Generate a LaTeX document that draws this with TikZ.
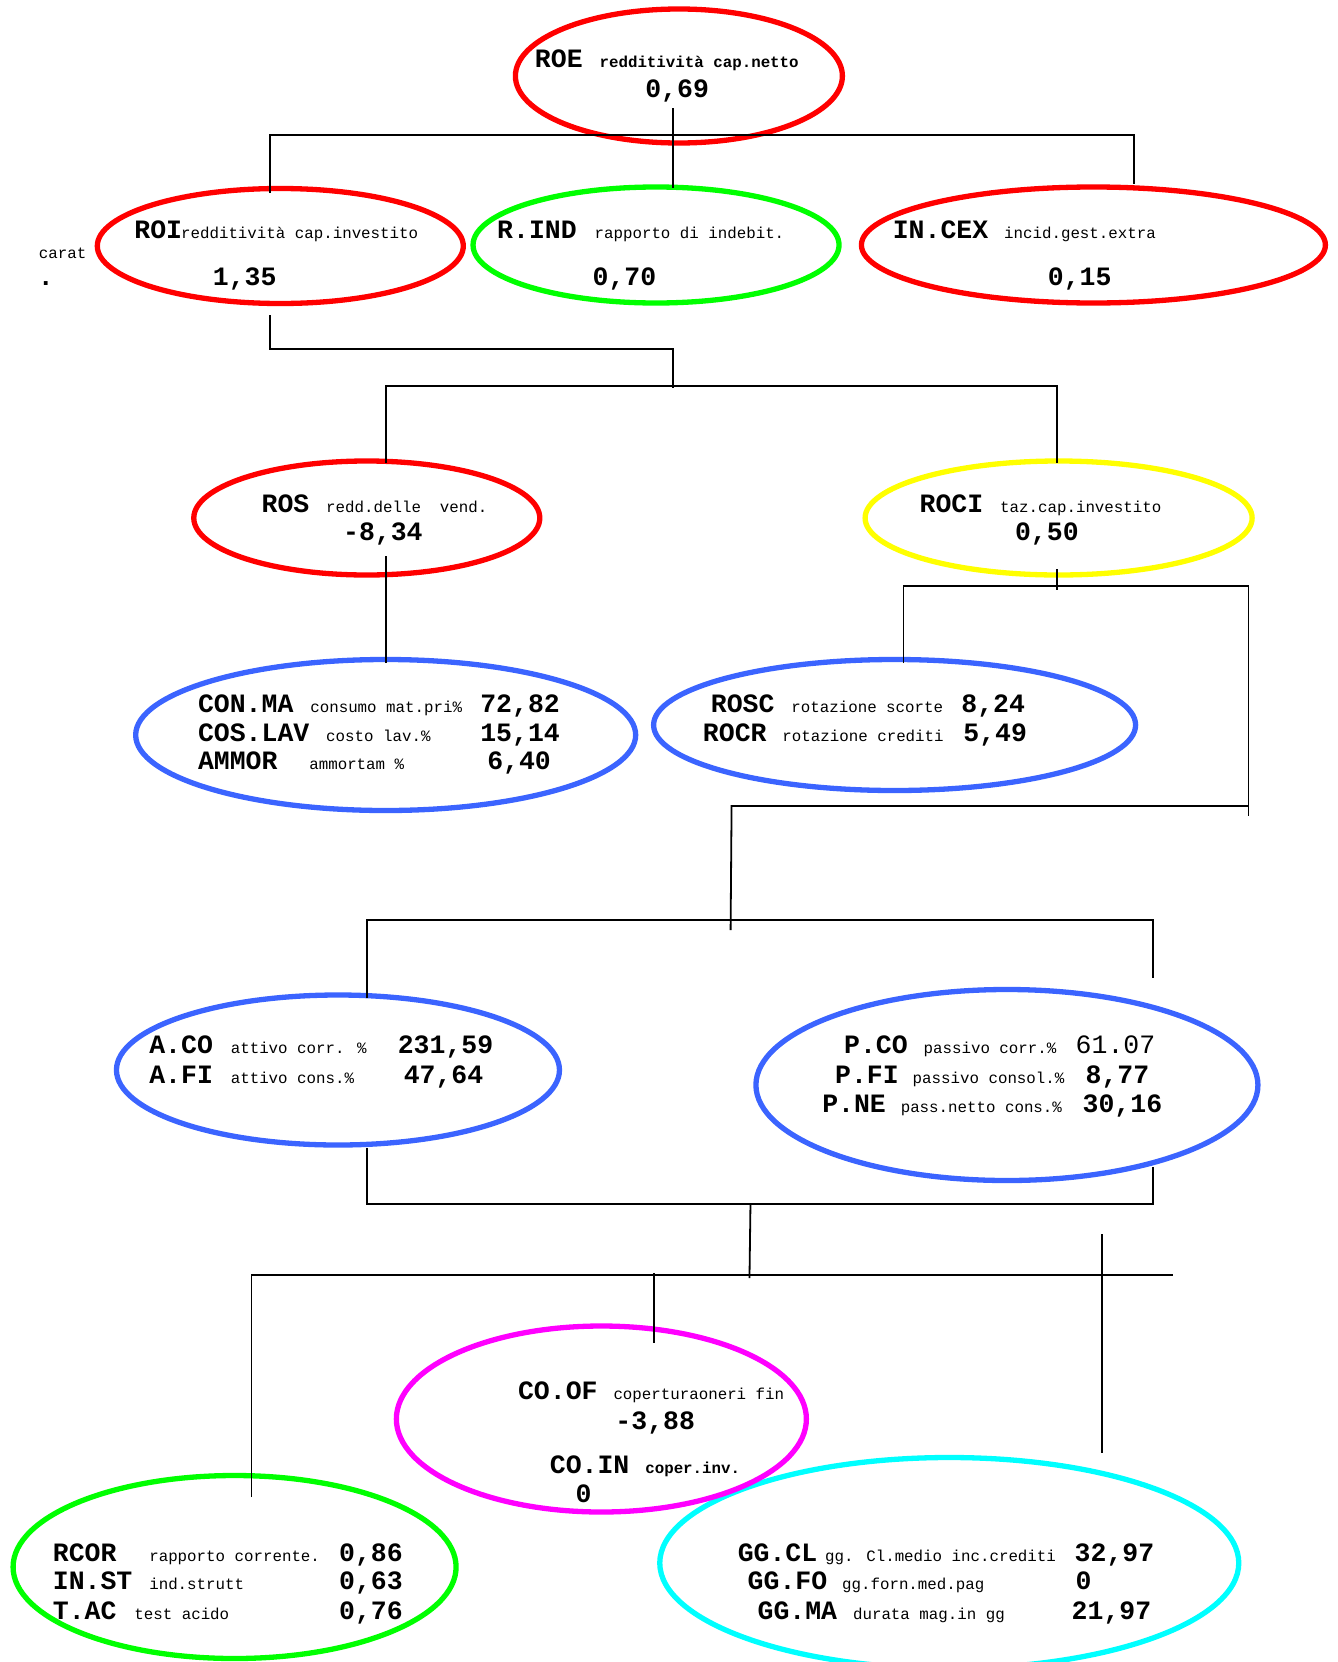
\documentclass[tikz,border=0pt]{standalone}
\usepackage{fontspec}
\newfontfamily\cour{Liberation Mono}
\usetikzlibrary{shapes.geometric}
\definecolor{blu}{RGB}{59,100,255}
\definecolor{rosso}{RGB}{255,0,0}
\definecolor{verde}{RGB}{0,255,0}
\definecolor{giallo}{RGB}{255,255,0}
\definecolor{ciano}{RGB}{0,255,255}
\definecolor{viola}{RGB}{255,0,255}

\begin{document}
\begin{tikzpicture}[x=0.994pt,y=-1pt,
    oval/.style={ellipse,draw,line width=5.3pt,inner sep=0pt},
    sigla/.style={anchor=base west,inner sep=0pt,font=\cour\bfseries\fontsize{26.5}{30}\selectfont},
    descr/.style={anchor=base west,inner sep=0pt,font=\cour\fontsize{15.8}{18}\selectfont},
    descrb/.style={descr,font=\cour\bfseries\fontsize{15.8}{18}\selectfont},
    conn/.style={line width=1.8pt}]
  \useasboundingbox (0,0) rectangle (1346,1662);

  % ellipses
  \node[oval,draw=rosso,minimum width=327,minimum height=134] (roe) at (683,76) {};
  \node[oval,draw=rosso,minimum width=366,minimum height=115] (roi) at (282,246) {};
  \node[oval,draw=verde,minimum width=366,minimum height=116] (rind) at (660,245) {};
  \node[oval,draw=rosso,minimum width=464,minimum height=116] (incex) at (1100,245) {};
  \node[oval,draw=rosso,minimum width=346,minimum height=114] (ros) at (369,518) {};
  \node[oval,draw=giallo,minimum width=387,minimum height=114] (roci) at (1065,518) {};
  \node[oval,draw=blu,minimum width=500,minimum height=151] (conma) at (388,735) {};
  \node[oval,draw=blu,minimum width=482,minimum height=131] (rosc) at (900,725) {};
  \node[oval,draw=blu,minimum width=443,minimum height=150] (aco) at (340,1070) {};
  \node[oval,draw=blu,minimum width=502,minimum height=191] (pco) at (1013,1085) {};
  \node[oval,draw=verde,minimum width=443,minimum height=183] (rcor) at (236,1567) {};
  \node[oval,draw=ciano,minimum width=579,minimum height=211] (ggcl) at (955,1563) {};
  \node[oval,draw=viola,minimum width=410,minimum height=186] (coof) at (605,1419) {};

  % texts
  \node[sigla] (roe-s) at (538,67) {ROE};
  \node[descrb] (roe-d) at (603,67) {redditività cap.netto};
  \node[sigla] (roe-v) at (649,97) {0,69};
  \node[descr] (carat) at (39,258) {carat};
  \node[sigla] (punto) at (38,285) {.};
  \node[sigla] (roi-s) at (135,238) {ROI};
  \node[descr] (roi-d) at (182,238) {redditività cap.investito};
  \node[sigla] (roi-v) at (214,285) {1,35};
  \node[sigla] (rind-s) at (500,238) {R.IND};
  \node[descr] (rind-d) at (598,238) {rapporto di indebit.};
  \node[sigla] (rind-v) at (596,285) {0,70};
  \node[sigla] (incex-s) at (898,238) {IN.CEX};
  \node[descr] (incex-d) at (1010,238) {incid.gest.extra};
  \node[sigla] (incex-v) at (1054,285) {0,15};
  \node[sigla] (ros-s) at (263,512) {ROS};
  \node[descr] (ros-d) at (328,512) {redd.delle\ \ vend.};
  \node[sigla] (ros-v) at (345,540) {-8,34};
  \node[sigla] (roci-s) at (925,512) {ROCI};
  \node[descr] (roci-d) at (1006,512) {taz.cap.investito};
  \node[sigla] (roci-v) at (1021,540) {0,50};
  \node[sigla] (conma-s) at (199,712) {CON.MA};
  \node[descr] (conma-d) at (312,712) {consumo mat.pri\%};
  \node[sigla] (conma-v) at (483,712) {72,82};
  \node[sigla] (coslav-s) at (199,741) {COS.LAV};
  \node[descr] (coslav-d) at (328,741) {costo lav.\%};
  \node[sigla] (coslav-v) at (483,741) {15,14};
  \node[sigla] (ammor-s) at (199,769) {AMMOR};
  \node[descr] (ammor-d) at (311,769) {ammortam \%};
  \node[sigla] (ammor-v) at (490,769) {6,40};
  \node[sigla] (rosc-s) at (715,712) {ROSC};
  \node[descr] (rosc-d) at (796,712) {rotazione scorte};
  \node[sigla] (rosc-v) at (967,712) {8,24};
  \node[sigla] (rocr-s) at (707,741) {ROCR};
  \node[descr] (rocr-d) at (787,741) {rotazione crediti};
  \node[sigla] (rocr-v) at (969,741) {5,49};
  \node[sigla] (aco-s) at (150,1053) {A.CO};
  \node[descr] (aco-d) at (232,1053) {attivo corr. \%};
  \node[sigla] (aco-v) at (400,1053) {231,59};
  \node[sigla] (afi-s) at (150,1083) {A.FI};
  \node[descr] (afi-d) at (232,1083) {attivo cons.\%};
  \node[sigla] (afi-v) at (406,1083) {47,64};
  \node[sigla] (pco-s) at (849,1053) {P.CO};
  \node[descr] (pco-d) at (929,1053) {passivo corr.\%};
  \node[sigla,font=\cour\fontsize{26.5}{30}\selectfont] (pco-v) at (1082,1053) {61.07};
  \node[sigla] (pfi-s) at (840,1083) {P.FI};
  \node[descr] (pfi-d) at (918,1083) {passivo consol.\%};
  \node[sigla] (pfi-v) at (1092,1083) {8,77};
  \node[sigla] (pne-s) at (827,1112) {P.NE};
  \node[descr] (pne-d) at (906,1112) {pass.netto cons.\%};
  \node[sigla] (pne-v) at (1089,1112) {30,16};
  \node[sigla] (coof-s) at (521,1399) {CO.OF};
  \node[descr] (coof-d) at (617,1399) {coperturaoneri fin};
  \node[sigla] (coof-v) at (619,1429) {-3,88};
  \node[sigla] (coin-s) at (553,1473) {CO.IN};
  \node[descrb] (coin-d) at (649,1473) {coper.inv.};
  \node[sigla] (coin-v) at (579,1502) {0};
  \node[sigla] (rcor-s) at (53,1561) {RCOR};
  \node[descr] (rcor-d) at (150,1561) {rapporto corrente.};
  \node[sigla] (rcor-v) at (341,1561) {0,86};
  \node[sigla] (inst-s) at (53,1589) {IN.ST};
  \node[descr] (inst-d) at (150,1589) {ind.strutt};
  \node[sigla] (inst-v) at (341,1589) {0,63};
  \node[sigla] (tac-s) at (53,1619) {T.AC};
  \node[descr] (tac-d) at (135,1619) {test acido};
  \node[sigla] (tac-v) at (341,1619) {0,76};
  \node[sigla] (ggcl-s) at (742,1561) {GG.CL};
  \node[descr] (ggcl-d) at (830,1561) {gg. Cl.medio inc.crediti};
  \node[sigla] (ggcl-v) at (1081,1561) {32,97};
  \node[sigla] (ggfo-s) at (752,1589) {GG.FO};
  \node[descr] (ggfo-d) at (847,1589) {gg.forn.med.pag};
  \node[sigla] (ggfo-v) at (1082,1589) {0};
  \node[sigla] (ggma-s) at (762,1619) {GG.MA};
  \node[descr] (ggma-d) at (858,1619) {durata mag.in gg};
  \node[sigla] (ggma-v) at (1078,1619) {21,97};

  % connector points
  \coordinate (roeS) at (677,108);
  \coordinate (rindN) at (677,188);
  \coordinate (roiN) at (272,193);
  \coordinate (incexN) at (1141,184);
  \coordinate (t1L) at (272,135);
  \coordinate (t1R) at (1141,135);
  \coordinate (roiS) at (272,315);
  \coordinate (t2L) at (272,349);
  \coordinate (t2R) at (677,349);
  \coordinate (t2D) at (677,388);
  \coordinate (t3L) at (388,386);
  \coordinate (t3R) at (1063,386);
  \coordinate (rosN) at (388,463);
  \coordinate (rociN) at (1063,463);
  \coordinate (rosS) at (388,556);
  \coordinate (conmaN) at (388,663);
  \coordinate (rociS) at (1063,569);
  \coordinate (rociT) at (1063,590);
  \coordinate (t4L) at (909,586);
  \coordinate (t4R) at (1256,586);
  \coordinate (roscN) at (909,663);
  \coordinate (t5R) at (1256,816);
  \coordinate (t5M) at (1256,806);
  \coordinate (t5L) at (736,806);
  \coordinate (t5D) at (735,930);
  \coordinate (t6L) at (369,920);
  \coordinate (t6R) at (1160,920);
  \coordinate (acoN) at (369,998);
  \coordinate (pcoN) at (1160,978);
  \coordinate (acoS) at (369,1148);
  \coordinate (pcoS) at (1160,1167);
  \coordinate (t7L) at (369,1204);
  \coordinate (t7R) at (1160,1204);
  \coordinate (t7M) at (755,1204);
  \coordinate (t7D) at (754,1278);
  \coordinate (t8L) at (253,1275);
  \coordinate (t8R) at (1180,1275);
  \coordinate (rcorN) at (253,1497);
  \coordinate (coofT) at (658,1273);
  \coordinate (coofN) at (658,1343);
  \coordinate (ggclT) at (1109,1234);
  \coordinate (ggclN) at (1109,1453);

  % connectors
  \draw[conn] (roeS) -- (rindN);
  \draw[conn] (roiN) -- (t1L) -- (t1R) -- (incexN);
  \draw[conn] (roiS) -- (t2L) -- (t2R) -- (t2D);
  \draw[conn] (rosN) -- (t3L) -- (t3R) -- (rociN);
  \draw[conn] (rosS) -- (conmaN);
  \draw[conn] (rociS) -- (rociT);
  \draw[conn] (roscN) -- (t4L) -- (t4R) -- (t5R);
  \draw[conn] (t5M) -- (t5L) -- (t5D);
  \draw[conn] (acoN) -- (t6L) -- (t6R) -- (pcoN);
  \draw[conn] (acoS) -- (t7L) -- (t7R) -- (pcoS);
  \draw[conn] (t7M) -- (t7D);
  \draw[conn] (rcorN) -- (t8L) -- (t8R);
  \draw[conn] (coofT) -- (coofN);
  \draw[conn] (ggclT) -- (ggclN);
\end{tikzpicture}
\end{document}
